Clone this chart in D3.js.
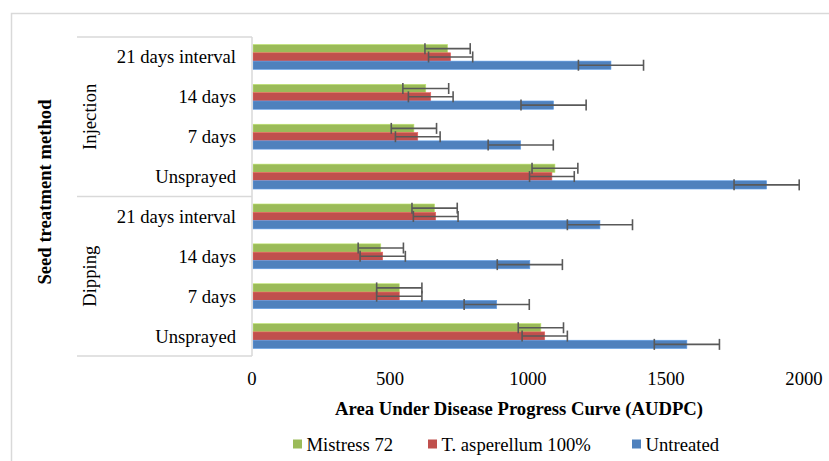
<!DOCTYPE html>
<html>
<head>
<meta charset="utf-8">
<script src="https://cdn.jsdelivr.net/npm/d3@7"></script>
<style>
  html, body { margin: 0; padding: 0; background: #fff; }
  svg { display: block; }
  text { font-family: "Liberation Serif", "Times New Roman", serif; fill: #000; }
</style>
</head>
<body>
<svg id="chart" width="829" height="461"></svg>
<script>
// ---- data (top row first) ----
const groups = ["Injection", "Dipping"];
const categories = ["21 days interval", "14 days", "7 days", "Unsprayed",
                    "21 days interval", "14 days", "7 days", "Unsprayed"];
const categoryGroup = ["Injection", "Injection", "Injection", "Injection",
                       "Dipping", "Dipping", "Dipping", "Dipping"];
const seriesNames = ["Mistress 72", "T. asperellum 100%", "Untreated"];
const mistress72 = [705, 626, 583, 1094, 658, 463, 530, 1043];
const asperellum = [716, 644, 597, 1083, 662, 470, 530, 1057];
const untreated  = [1297, 1089, 970, 1861, 1257, 1003, 883, 1572];
const mistress72Err = [82, 83, 82, 83, 82, 82, 82, 82];
const asperellumErr = [80, 81, 81, 81, 81, 82, 82, 82];
const untreatedErr  = [118, 118, 118, 118, 118, 118, 118, 118];
const xTicks = [0, 500, 1000, 1500, 2000];
const colors = ["#9BBB59", "#C0504D", "#4F81BD"];

const seriesValues = [mistress72, asperellum, untreated];
const seriesErr = [mistress72Err, asperellumErr, untreatedErr];

const svg = d3.select("#chart");
const FS = 18.67;

// outer chart border
svg.append("rect").attr("x", 11.5).attr("y", 13.5).attr("width", 840).attr("height", 470)
  .attr("fill", "none").attr("stroke", "#d9d9d9").attr("stroke-width", 1.5);

const x = d3.scaleLinear().domain([0, 2000]).range([253, 805]);
const rowIdx = d3.range(categories.length);
const y = d3.scaleBand().domain(rowIdx).range([37, 356]).paddingInner(0.375).paddingOuter(0.1875);
const ySub = d3.scaleBand().domain(d3.range(seriesNames.length)).range([0, y.bandwidth()]);

// bars
seriesValues.forEach((vals, s) => {
  svg.append("g").selectAll("rect").data(rowIdx).join("rect")
    .attr("x", x(0))
    .attr("y", i => y(i) + ySub(s))
    .attr("width", i => x(vals[i]) - x(0))
    .attr("height", ySub.bandwidth())
    .attr("fill", colors[s])
    .attr("stroke", d3.color(colors[s]).brighter(0.6))
    .attr("stroke-width", 0.6);
});

// error bars
seriesValues.forEach((vals, s) => {
  const g = svg.append("g").attr("stroke", "#595959").attr("stroke-width", 1.6).attr("fill", "none");
  rowIdx.forEach(i => {
    const cy = y(i) + ySub(s) + ySub.bandwidth() / 2;
    const lo = x(vals[i] - seriesErr[s][i]);
    const hi = x(vals[i] + seriesErr[s][i]);
    g.append("line").attr("x1", lo).attr("x2", hi).attr("y1", cy).attr("y2", cy);
    g.append("line").attr("x1", lo).attr("x2", lo).attr("y1", cy - 5.5).attr("y2", cy + 5.5);
    g.append("line").attr("x1", hi).attr("x2", hi).attr("y1", cy - 5.5).attr("y2", cy + 5.5);
  });
});

// category axis lines
const axisG = svg.append("g").attr("stroke", "#d9d9d9").attr("stroke-width", 1.5);
axisG.append("line").attr("x1", 252).attr("x2", 252).attr("y1", 37).attr("y2", 356);
const groupBounds = [37, y(4) - y.step() * y.paddingInner() / 2, 356];
groupBounds.forEach(b => {
  axisG.append("line").attr("x1", 77).attr("x2", 252).attr("y1", b).attr("y2", b);
});

// row labels
svg.append("g").selectAll("text").data(rowIdx).join("text")
  .attr("x", 236)
  .attr("y", i => y(i) + y.bandwidth() / 2)
  .attr("dy", "0.35em")
  .attr("text-anchor", "end")
  .style("font-size", FS + "px")
  .text(i => categories[i]);

// group labels
groups.forEach((gname, gi) => {
  const cy = (groupBounds[gi] + groupBounds[gi + 1]) / 2;
  svg.append("text")
    .attr("transform", `translate(89,${cy}) rotate(-90)`)
    .attr("text-anchor", "middle")
    .attr("dy", "0.35em")
    .style("font-size", FS + "px")
    .text(gname);
});

// y axis title
svg.append("text")
  .attr("transform", "translate(44,192) rotate(-90)")
  .attr("text-anchor", "middle")
  .attr("dy", "0.35em")
  .style("font-size", FS + "px")
  .style("font-weight", "bold")
  .text("Seed treatment method");

// x axis ticks
svg.append("g").selectAll("text").data(xTicks).join("text")
  .attr("x", d => x(d) - 1)
  .attr("y", 378)
  .attr("dy", "0.35em")
  .attr("text-anchor", "middle")
  .style("font-size", FS + "px")
  .text(d => d);

// x axis title
svg.append("text")
  .attr("x", 519).attr("y", 408).attr("dy", "0.35em")
  .attr("text-anchor", "middle")
  .style("font-size", FS + "px")
  .style("font-weight", "bold")
  .text("Area Under Disease Progress Curve (AUDPC)");

// legend
const legendX = [293, 428, 632];
seriesNames.forEach((name, s) => {
  svg.append("rect").attr("x", legendX[s]).attr("y", 439.5).attr("width", 9).attr("height", 9)
    .attr("fill", colors[s]);
  svg.append("text").attr("x", legendX[s] + 13.5).attr("y", 444).attr("dy", "0.35em")
    .style("font-size", FS + "px").text(name);
});
</script>
</body>
</html>
